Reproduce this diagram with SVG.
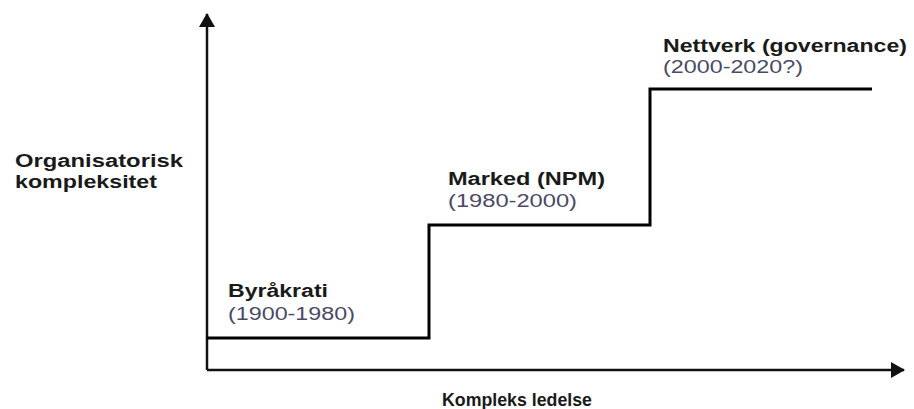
<svg xmlns="http://www.w3.org/2000/svg" width="914" height="409" viewBox="0 0 914 409">
<defs>
<style>
.lbl{font-family:"Liberation Sans",Arial,sans-serif;font-weight:bold;font-size:18px;fill:#1a1a1a}
.yr{font-family:"Liberation Sans",Arial,sans-serif;font-size:18px;fill:#4a4a66}
.ax{stroke:#111;stroke-width:2.5;fill:none}
.step{stroke:#000;stroke-width:3;fill:none;stroke-linejoin:miter}
</style>
<marker id="ah" viewBox="0 0 14 16" refX="13" refY="8" markerWidth="14" markerHeight="16" markerUnits="userSpaceOnUse" orient="auto">
<path d="M0,0 L14,8 L0,16 Z" fill="#111"/>
</marker>
</defs>
<rect width="914" height="409" fill="#fff"/>
<g id="connectors">
<line class="ax" x1="207" y1="370" x2="207" y2="14" marker-end="url(#ah)"/>
<line class="ax" x1="207" y1="370" x2="904" y2="370" marker-end="url(#ah)"/>
<polyline class="step" points="207,338 429,338 429,225 650,225 650,89 872,89"/>
</g>
<g id="yaxis-label">
<text class="lbl" x="15" y="167" textLength="168" lengthAdjust="spacingAndGlyphs">Organisatorisk</text>
<text class="lbl" x="15" y="188" textLength="142" lengthAdjust="spacingAndGlyphs">kompleksitet</text>
</g>
<g id="xaxis-label">
<text class="lbl" x="442" y="406" textLength="150" lengthAdjust="spacingAndGlyphs">Kompleks ledelse</text>
</g>
<g id="byrakrati">
<text class="lbl" x="228" y="297" textLength="100" lengthAdjust="spacingAndGlyphs">Byråkrati</text>
<text class="yr" x="228" y="320" textLength="127" lengthAdjust="spacingAndGlyphs">(1900-1980)</text>
</g>
<g id="marked">
<text class="lbl" x="448" y="185" textLength="157" lengthAdjust="spacingAndGlyphs">Marked (NPM)</text>
<text class="yr" x="448" y="207" textLength="129" lengthAdjust="spacingAndGlyphs">(1980-2000)</text>
</g>
<g id="nettverk">
<text class="lbl" x="663" y="52" textLength="244" lengthAdjust="spacingAndGlyphs">Nettverk (governance)</text>
<text class="yr" x="663" y="73" textLength="140" lengthAdjust="spacingAndGlyphs">(2000-2020?)</text>
</g>
</svg>
